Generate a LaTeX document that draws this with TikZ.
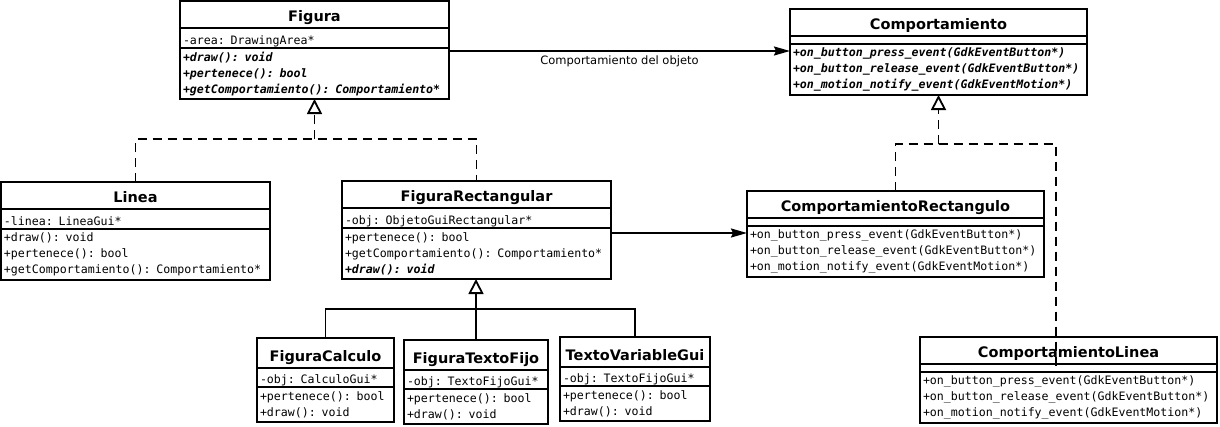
\documentclass[tikz,border=0pt]{standalone}
\usepackage{fontspec}
\setmainfont{DejaVu Sans}
\newfontfamily\membersfam{DejaVu Sans Mono}
\usetikzlibrary{positioning,arrows.meta}

\newcommand\titlefont{\fontsize{14.5}{16}\selectfont\bfseries}
\newcommand\memberfont{\membersfam\fontsize{11.6}{16}\selectfont}
\newcommand\labelfont{\fontsize{11.5}{14}\selectfont}
\newcommand\abst[1]{\textbf{\textit{#1}}}

\begin{document}
\begin{tikzpicture}[x=1pt,y=-1pt]

\tikzstyle{umlbox}=[draw,line width=1.8pt,rectangle,inner xsep=3pt,inner ysep=0pt,outer sep=0pt]
\tikzstyle{classname}=[umlbox,font=\titlefont,align=center,text height=20pt,text depth=7pt]
\tikzstyle{smallname}=[classname,text height=23pt,text depth=7pt]
\tikzstyle{attrlist}=[umlbox,font=\memberfont,align=left,text height=16pt,text depth=4pt]
\tikzstyle{smallattrs}=[attrlist,text height=15pt]
\tikzstyle{noattrs}=[umlbox,text height=8pt,text depth=0pt]
\tikzstyle{oplist}=[umlbox,font=\memberfont,align=left,minimum height=51pt]
\tikzstyle{smallops}=[oplist,minimum height=35pt]
\tikzstyle{dashline}=[line width=1.8pt,dash pattern=on 9pt off 6pt]
\tikzstyle{realize}=[dashline,-{Triangle[open,length=15pt,width=15pt]}]
\tikzstyle{inherit}=[line width=1.8pt,-{Triangle[open,length=15pt,width=15pt]}]
\tikzstyle{assoc}=[line width=1.8pt,-{Stealth[length=16pt,width=9pt,inset=2pt]}]

\useasboundingbox (0,0) rectangle (1220,426);

% Figura
\node[classname,text width=263pt,anchor=north west](figura)at(180,1){Figura};
\node[attrlist,text width=263pt,below=0pt of figura](figura-attr){-area: DrawingArea*};
\node[oplist,text width=263pt,below=0pt of figura-attr](figura-ops){\abst{+draw(): void}\\\abst{+pertenece(): bool}\\\abst{+getComportamiento(): Comportamiento*}};

% Comportamiento
\node[classname,text width=291pt,anchor=north west](comp)at(790,9){Comportamiento};
\node[noattrs,text width=291pt,below=0pt of comp](comp-attr){};
\node[oplist,text width=291pt,below=0pt of comp-attr](comp-ops){\abst{+on\_button\_press\_event(GdkEventButton*)}\\\abst{+on\_button\_release\_event(GdkEventButton*)}\\\abst{+on\_motion\_notify\_event(GdkEventMotion*)}};

% Linea
\node[classname,text width=263pt,anchor=north west](linea)at(1,182){Linea};
\node[attrlist,text width=263pt,below=0pt of linea](linea-attr){-linea: LineaGui*};
\node[oplist,text width=263pt,below=0pt of linea-attr](linea-ops){+draw(): void\\+pertenece(): bool\\+getComportamiento(): Comportamiento*};

% FiguraRectangular
\node[classname,text width=263pt,anchor=north west](figrect)at(342,181){FiguraRectangular};
\node[attrlist,text width=263pt,below=0pt of figrect](figrect-attr){-obj: ObjetoGuiRectangular*};
\node[oplist,text width=263pt,below=0pt of figrect-attr](figrect-ops){+pertenece(): bool\\+getComportamiento(): Comportamiento*\\\abst{+draw(): void}};

% ComportamientoRectangulo
\node[classname,text width=291pt,anchor=north west](comprect)at(747,191){ComportamientoRectangulo};
\node[noattrs,text width=291pt,below=0pt of comprect](comprect-attr){};
\node[oplist,text width=291pt,below=0pt of comprect-attr](comprect-ops){+on\_button\_press\_event(GdkEventButton*)\\+on\_button\_release\_event(GdkEventButton*)\\+on\_motion\_notify\_event(GdkEventMotion*)};

% FiguraCalculo
\node[smallname,text width=131pt,anchor=north west](figcalc)at(257,338){FiguraCalculo};
\node[smallattrs,text width=131pt,below=0pt of figcalc](figcalc-attr){-obj: CalculoGui*};
\node[smallops,text width=131pt,below=0pt of figcalc-attr](figcalc-ops){+pertenece(): bool\\+draw(): void};

% FiguraTextoFijo
\node[smallname,text width=138pt,anchor=north west](figtexto)at(404,340){FiguraTextoFijo};
\node[smallattrs,text width=138pt,below=0pt of figtexto](figtexto-attr){-obj: TextoFijoGui*};
\node[smallops,text width=138pt,below=0pt of figtexto-attr](figtexto-ops){+pertenece(): bool\\+draw(): void};

% TextoVariableGui
\node[smallname,text width=144pt,anchor=north west](textovar)at(560,337){TextoVariableGui};
\node[smallattrs,text width=144pt,below=0pt of textovar](textovar-attr){-obj: TextoFijoGui*};
\node[smallops,text width=144pt,below=0pt of textovar-attr](textovar-ops){+pertenece(): bool\\+draw(): void};

% ComportamientoLinea
\node[classname,text width=291pt,anchor=north west](complinea)at(920,337){ComportamientoLinea};
\node[noattrs,text width=291pt,below=0pt of complinea](complinea-attr){};
\node[oplist,text width=291pt,below=0pt of complinea-attr](complinea-ops){+on\_button\_press\_event(GdkEventButton*)\\+on\_button\_release\_event(GdkEventButton*)\\+on\_motion\_notify\_event(GdkEventMotion*)};

% associations
\coordinate(assoc1)at([yshift=-3pt]figura-ops.north east);
\draw[assoc](assoc1)--(assoc1 -| comp-ops.west)node[midway,below=1pt,font=\labelfont]{Comportamiento del objeto};
\coordinate(assoc2)at([yshift=-5pt]figrect-ops.north east);
\draw[assoc](assoc2)--(assoc2 -| comprect-ops.west);

% realizations of Figura
\coordinate(figjoin)at([yshift=-40pt]figura-ops.south);
\draw[dashline](linea.north)|-(figjoin)-|(figrect.north);
\draw[realize](figjoin)--(figura-ops.south);

% subclasses of FiguraRectangular
\coordinate(rectjoin)at([yshift=-30pt]figrect-ops.south);
\draw[line width=1.8pt](figcalc.north)|-(rectjoin)-|(textovar.north);
\draw[inherit](figtexto.north)--(figtexto.north |- figrect-ops.south);

% realizations of Comportamiento
\coordinate(compjoin)at([yshift=-49pt]comp-ops.south);
\coordinate(lineadrop)at([xshift=136pt]complinea-ops.north west);
\draw[dashline](comprect.north)|-(compjoin)-|(lineadrop);
\draw[realize](compjoin)--(comp-ops.south);

\end{tikzpicture}
\end{document}
